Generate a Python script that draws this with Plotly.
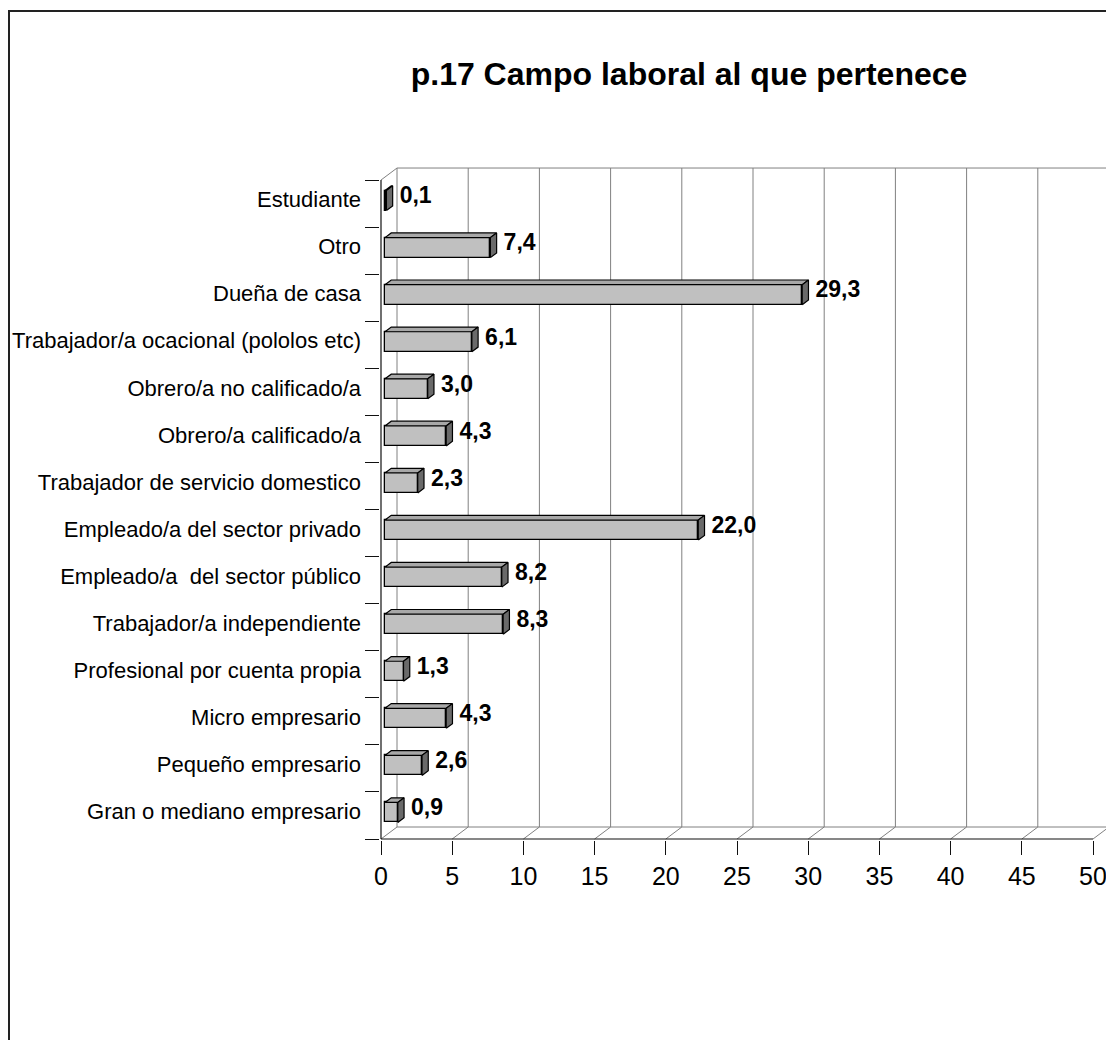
import plotly.graph_objects as go

# ---------------- data ----------------
categories = [
    "Gran o mediano empresario",
    "Pequeño empresario",
    "Micro empresario",
    "Profesional por cuenta propia",
    "Trabajador/a independiente",
    "Empleado/a  del sector público",
    "Empleado/a del sector privado",
    "Trabajador de servicio domestico",
    "Obrero/a calificado/a",
    "Obrero/a no calificado/a",
    "Trabajador/a ocacional (pololos etc)",
    "Dueña de casa",
    "Otro",
    "Estudiante",
]
values = [0.9, 2.6, 4.3, 1.3, 8.3, 8.2, 22.0, 2.3, 4.3, 3.0, 6.1, 29.3, 7.4, 0.1]
x_ticks = [0, 5, 10, 15, 20, 25, 30, 35, 40, 45, 50]
title = "p.17 Campo laboral al que pertenece"

# ---------------- geometry (page pixels -> figure pixels -> data units) ----------------
OFF = 8                       # default page body margin
FW, FH = 1114 - OFF, 1040 - OFF
SX = 14.24                    # px per x unit on front plane
SY = 47.07                    # px per category
X0PX = 381 - OFF              # x=0 on front plane
L, R = 380 - OFF, 1113 - OFF  # plot area
T, B = 165 - OFF, 840 - OFF
Y_BOT_PX = 839 - OFF          # y=-0.5 on front plane
xmin = (L - X0PX) / SX
xmax = (R - X0PX) / SX
ymin = -0.5 - (B - Y_BOT_PX) / SY
ymax = -0.5 + (Y_BOT_PX - T) / SY
DX = 16 / SX        # depth offset in x units
DY = 12 / SY        # depth offset in y units
F0, F1 = 0.25, 0.64 # bar front/back depth fraction
H = 0.2125          # half bar thickness
XMAX_AX = x_ticks[-1]
n = len(categories)
ytop = n - 0.5
ybot = -0.5

FONT = "Arial, Liberation Sans, sans-serif"
GRID = "#808080"
AX = "#111111"

fig = go.Figure()

idx = list(range(n))
# front faces (bars)
fig.add_trace(go.Bar(
    orientation="h",
    x=values,
    y=[i + F0 * DY for i in idx],
    base=F0 * DX,
    width=2 * H,
    marker=dict(color="#C0C0C0", line=dict(color="black", width=1.3)),
    hoverinfo="skip",
    showlegend=False,
))

# top faces and side faces
tx, ty, sx_, sy_ = [], [], [], []
for i, v in zip(idx, values):
    yc0 = i + F0 * DY
    yc1 = i + F1 * DY
    tx += [F0 * DX, v + F0 * DX, v + F1 * DX, F1 * DX, F0 * DX, None]
    ty += [yc0 + H, yc0 + H, yc1 + H, yc1 + H, yc0 + H, None]
    sx_ += [v + F0 * DX, v + F0 * DX, v + F1 * DX, v + F1 * DX, v + F0 * DX, None]
    sy_ += [yc0 - H, yc0 + H, yc1 + H, yc1 - H, yc0 - H, None]
fig.add_trace(go.Scatter(x=tx, y=ty, mode="lines", fill="toself", fillcolor="#A8A8A8",
                         line=dict(color="black", width=1.2), hoverinfo="skip", showlegend=False))
fig.add_trace(go.Scatter(x=sx_, y=sy_, mode="lines", fill="toself", fillcolor="#6A6A6A",
                         line=dict(color="black", width=1.2), hoverinfo="skip", showlegend=False))

# value labels
fig.add_trace(go.Scatter(
    x=[v + F1 * DX + 7 / SX for v in values],
    y=[i + F0 * DY + 3 / SY for i in idx],
    mode="text",
    text=[f"{v:.1f}".replace(".", ",") for v in values],
    textposition="middle right",
    textfont=dict(family=FONT, size=23, color="black", weight="bold"),
    cliponaxis=False,
    hoverinfo="skip",
    showlegend=False,
))

# walls / grid (shapes below traces)
shapes = []
def seg(x0, y0, x1, y1, color, width=1):
    shapes.append(dict(type="line", xref="x", yref="y", x0=x0, y0=y0, x1=x1, y1=y1,
                       line=dict(color=color, width=width), layer="below"))

for v in x_ticks:
    seg(v + DX, ybot + DY, v + DX, ytop + DY, GRID)
    seg(v, ybot, v + DX, ybot + DY, GRID)
seg(DX, ytop + DY, XMAX_AX + DX, ytop + DY, GRID)
seg(DX, ybot + DY, XMAX_AX + DX, ybot + DY, GRID)
seg(0, ytop, DX, ytop + DY, GRID)
# front axis lines
seg(0, ybot, XMAX_AX, ybot, AX, 1.2)
seg(0, ybot, 0, ytop, AX, 1.2)

# outer border
W = R - L
Hh = B - T
shapes.append(dict(type="rect", xref="paper", yref="paper",
                   x0=(9 - OFF - L) / W, x1=(1130 - L) / W,
                   y0=(B - 1060) / Hh, y1=(B - (11 - OFF)) / Hh,
                   line=dict(color="#222222", width=2), fillcolor="rgba(0,0,0,0)", layer="above"))

fig.update_layout(
    width=FW, height=FH,
    margin=dict(l=L, r=FW - R, t=T, b=FH - B, autoexpand=False),
    paper_bgcolor="white", plot_bgcolor="white",
    shapes=shapes,
    bargap=0,
    title=dict(text=title, x=(689 - OFF) / FW, xanchor="center", y=1 - (74 - OFF) / FH,
               yanchor="middle",
               font=dict(family=FONT, size=32, color="black", weight="bold")),
    xaxis=dict(range=[xmin, xmax], tickmode="array", tickvals=x_ticks,
               ticktext=[str(v) for v in x_ticks],
               ticks="outside", ticklen=14, tickcolor=AX, tickwidth=1,
               showgrid=False, zeroline=False, showline=False,
               tickfont=dict(family=FONT, size=25, color="black")),
    yaxis=dict(range=[ymin, ymax], tickmode="array", tickvals=[i + 4 / SY for i in idx],
               ticktext=categories,
               ticks="", showgrid=False, zeroline=False, showline=False,
               ticklabelstandoff=18,
               tickfont=dict(family=FONT, size=22, color="black"),
               minor=dict(tickmode="array", tickvals=[k - 0.5 for k in range(n + 1)],
                          ticks="outside", ticklen=14, tickcolor=AX, tickwidth=1, showgrid=False)),
)

fig.write_html("out.html")
